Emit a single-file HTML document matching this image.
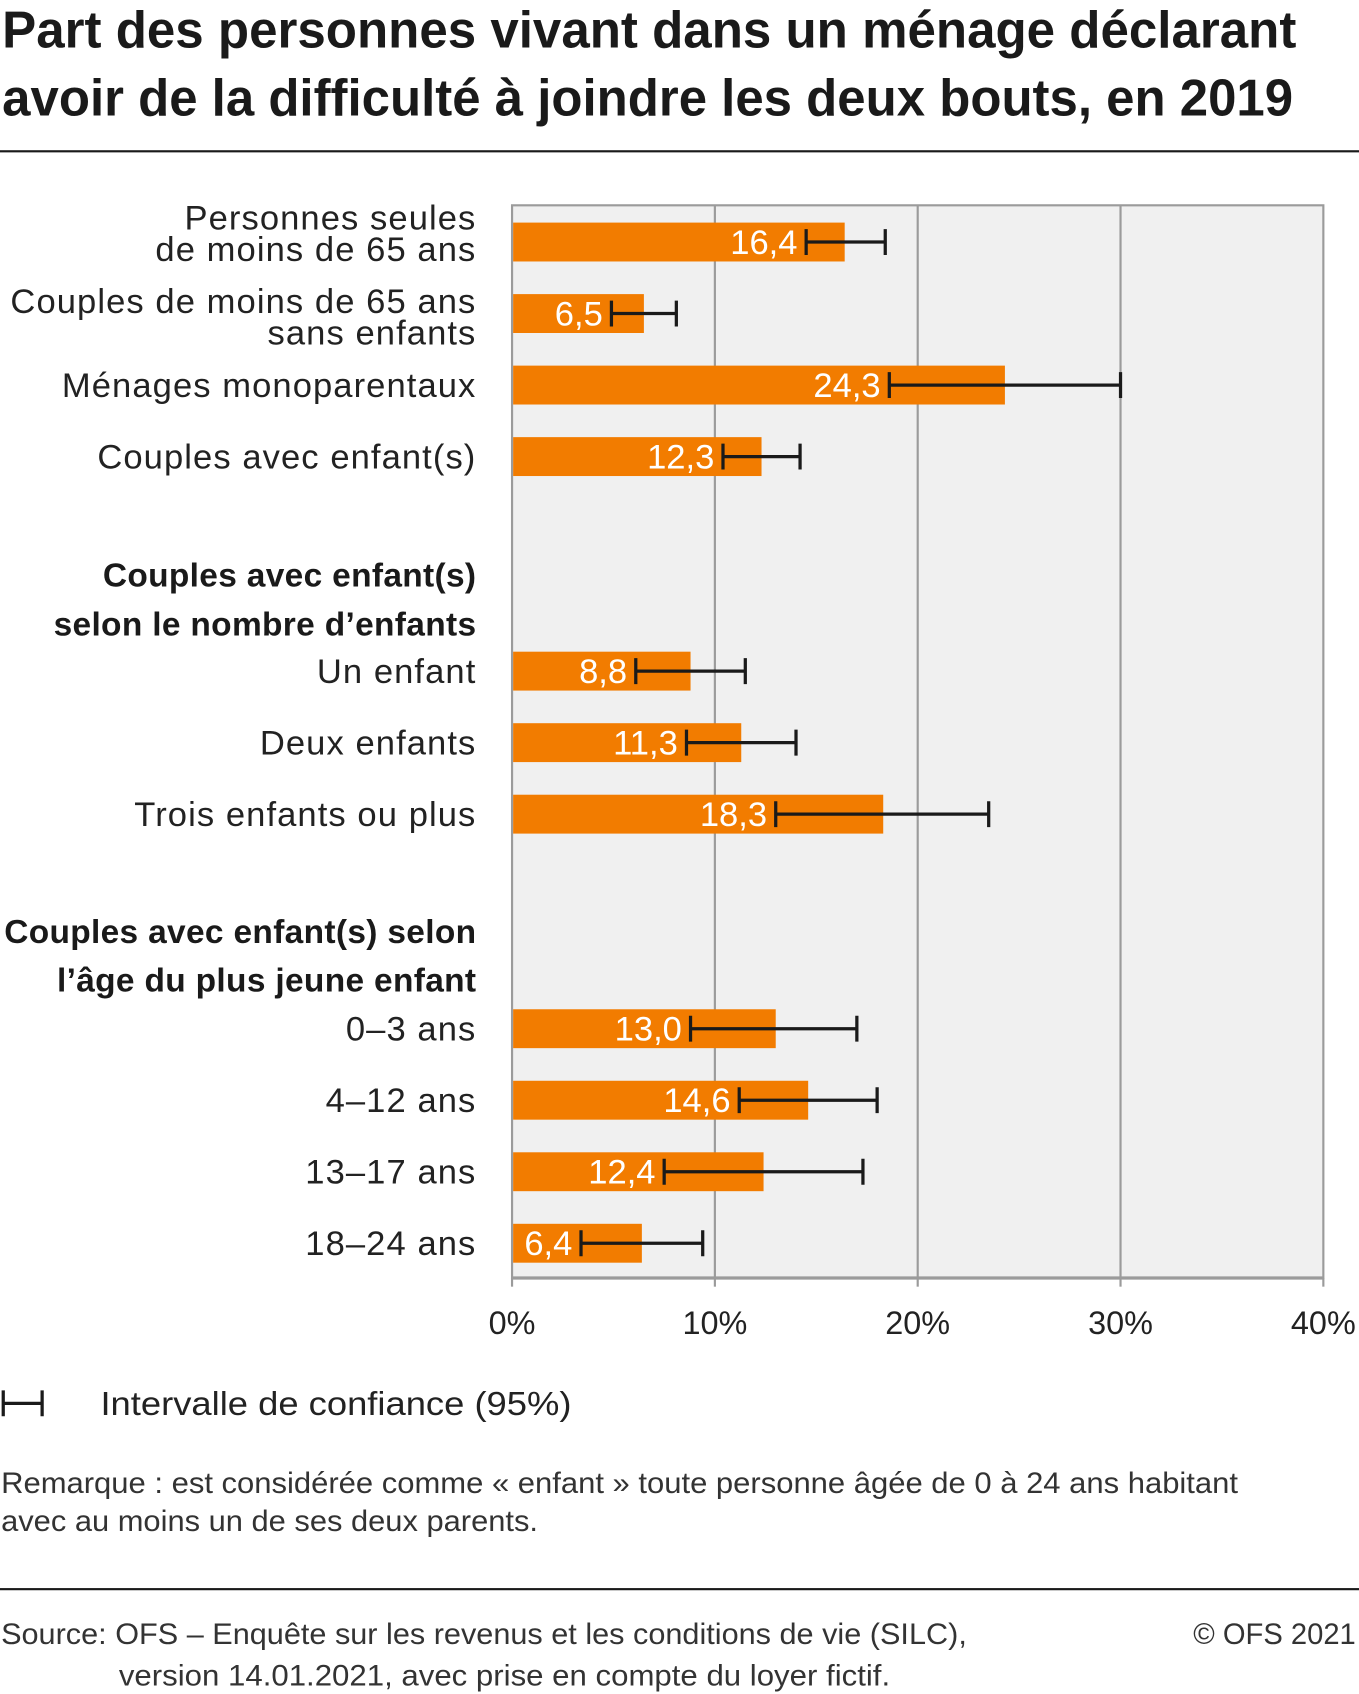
<!DOCTYPE html>
<html><head><meta charset="utf-8"><style>
html,body{margin:0;padding:0;background:#fff;}
svg{display:block;font-family:"Liberation Sans",sans-serif;}
</style></head><body>
<svg width="1359" height="1694" viewBox="0 0 1258 1568">
<g font-weight="bold" font-size="48" fill="#1a1a1a">
<text x="2" y="44" textLength="1198" lengthAdjust="spacingAndGlyphs">Part des personnes vivant dans un ménage déclarant</text>
<text x="2" y="107" textLength="1195" lengthAdjust="spacingAndGlyphs">avoir de la difficulté à joindre les deux bouts, en 2019</text>
</g>
<rect x="0" y="139" width="1258" height="2" fill="#1a1a1a"/>
<g id="plot"></g>
<g>
<path d="M3 1287 V1311 M3 1299 H39 M39 1287 V1311" stroke="#1a1a1a" stroke-width="3" fill="none"/>
<text x="93" y="1310" font-size="31" fill="#222" textLength="436" lengthAdjust="spacingAndGlyphs">Intervalle de confiance (95%)</text>
</g>
<g font-size="27" fill="#333">
<text x="1" y="1382" textLength="1145" lengthAdjust="spacingAndGlyphs">Remarque : est considérée comme « enfant » toute personne âgée de 0 à 24 ans habitant</text>
<text x="1" y="1417" textLength="497" lengthAdjust="spacingAndGlyphs">avec au moins un de ses deux parents.</text>
</g>
<rect x="0" y="1470" width="1258" height="2" fill="#1a1a1a"/>
<g font-size="27" fill="#333">
<text x="1" y="1522" textLength="894" lengthAdjust="spacingAndGlyphs">Source: OFS – Enquête sur les revenus et les conditions de vie (SILC),</text>
<text x="110" y="1560" textLength="714" lengthAdjust="spacingAndGlyphs">version 14.01.2021, avec prise en compte du loyer fictif.</text>
<text x="1255" y="1522" text-anchor="end">© OFS 2021</text>
</g>
</svg>
<script>
const categories=[["Personnes seules","de moins de 65 ans"],["Couples de moins de 65 ans","sans enfants"],["Ménages monoparentaux"],["Couples avec enfant(s)"],["Un enfant"],["Deux enfants"],["Trois enfants ou plus"],["0–3 ans"],["4–12 ans"],["13–17 ans"],["18–24 ans"]];
const values=[16.4,6.5,24.3,12.3,8.8,11.3,18.3,13.0,14.6,12.4,6.4];
const ciLow=[14.5,4.9,18.6,10.4,6.1,8.6,13.0,8.8,11.2,7.5,3.4];
const ciHigh=[18.4,8.1,30.0,14.2,11.5,14.0,23.5,17.0,18.0,17.3,9.4];
const ticks=[0,10,20,30,40];
const tickLabels=["0%","10%","20%","30%","40%"];
const slots=[0,1,2,3,6,7,8,11,12,13,14];
const NS="http://www.w3.org/2000/svg";
const g=document.getElementById('plot');
const X0=474,X1=1225,Y0=190,Y1=1183;
const x=v=>X0+(v/40)*(X1-X0);
const yc=s=>224+s*66.2;
function el(t,a,p){const e=document.createElementNS(NS,t);for(const k in a)e.setAttribute(k,a[k]);(p||g).appendChild(e);return e;}
const bg=el('rect',{x:X0,y:Y0,width:X1-X0,height:Y1-Y0,fill:'#f0f0f0',stroke:'#9b9b9b','stroke-width':2});


ticks.forEach((t,i)=>{
 if(t>0&&t<40){const l=el('line',{x1:x(t),x2:x(t),y1:Y0,y2:Y1,stroke:'#9b9b9b','stroke-width':2});
 
 }
 const tk=el('line',{x1:x(t),x2:x(t),y1:Y1,y2:Y1+8,stroke:'#9b9b9b','stroke-width':2});
 
 
 const tl=el('text',{x:x(t),y:1235,'text-anchor':'middle','font-size':30,fill:'#222','font-family':'"Liberation Sans Narrow","Liberation Sans",sans-serif'});
 tl.textContent=tickLabels[i];
 
 
});
const ax=el('line',{x1:X0,x2:X1,y1:Y1,y2:Y1,stroke:'#9b9b9b','stroke-width':3});


const heads=[[["Couples avec enfant(s)","selon le nombre d’enfants"],532],[["Couples avec enfant(s) selon","l’âge du plus jeune enfant"],862]];
heads.forEach(h=>{h[0].forEach((s,j)=>{const t=el('text',{x:441,y:h[1]+11+j*45,'text-anchor':'end','font-size':31,'font-weight':'bold','letter-spacing':0.3,fill:'#1a1a1a'});t.textContent=s;
 
 });});
values.forEach((v,i)=>{
 const c=yc(slots[i]);
 const b=el('rect',{x:X0+1,y:c-18,width:x(v)-X0-1,height:36,fill:'#f27c00'});
 
 
 const vl=el('text',{x:x(ciLow[i])-8,y:c+11,'text-anchor':'end','font-size':32,fill:'#fff','font-weight':'300','font-family':'"Liberation Sans Narrow","Liberation Sans",sans-serif'});
 vl.textContent=v.toFixed(1).replace('.',',');
 
 
 const eb=el('path',{d:`M${x(ciLow[i])} ${c-12}V${c+12}M${x(ciLow[i])} ${c}H${x(ciHigh[i])}M${x(ciHigh[i])} ${c-12}V${c+12}`,stroke:'#1a1a1a','stroke-width':3,fill:'none'});
 
 
 const lines=categories[i];
 const shift=lines.length>1?(i===0?-8:3):0;
 lines.forEach((s,j)=>{const t=el('text',{x:441,y:c+11+shift+(lines.length>1?(j-0.5)*29:0),'text-anchor':'end','font-size':32,'letter-spacing':1,fill:'#222'});t.textContent=s;
  
  });
});
</script>
</body></html>
